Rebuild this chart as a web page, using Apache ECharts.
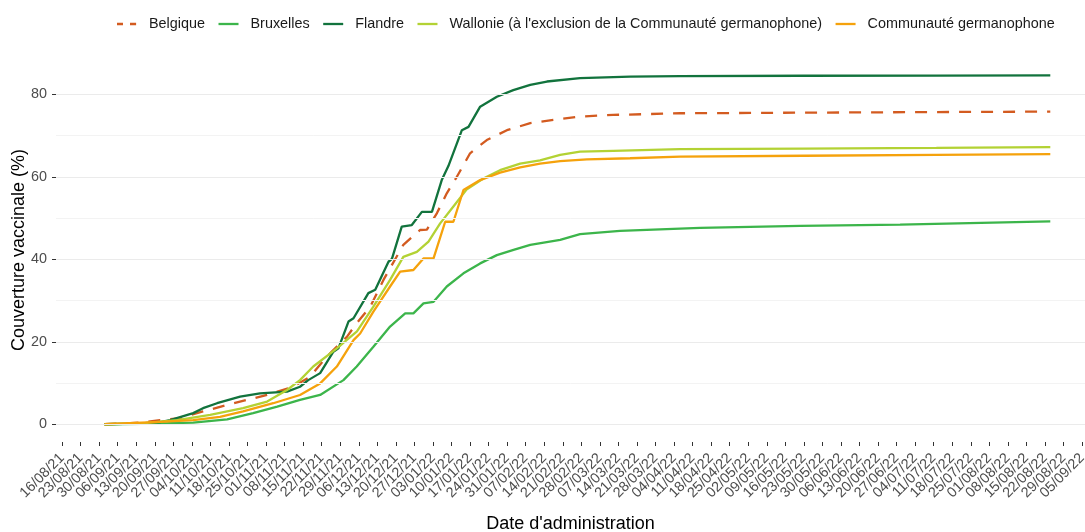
<!DOCTYPE html>
<html><head><meta charset="utf-8">
<script src="https://cdn.jsdelivr.net/npm/echarts@6/dist/echarts.min.js"></script>
<style>html,body{margin:0;padding:0;background:#fff}#c{width:1085px;height:532px}</style>
</head><body><div id="c"></div>
<script>
// x values are days counted from 16/08/21
const tickLabels = ["16/08/21","23/08/21","30/08/21","06/09/21","13/09/21","20/09/21","27/09/21","04/10/21","11/10/21","18/10/21","25/10/21","01/11/21","08/11/21","15/11/21","22/11/21","29/11/21","06/12/21","13/12/21","20/12/21","27/12/21","03/01/22","10/01/22","17/01/22","24/01/22","31/01/22","07/02/22","14/02/22","21/02/22","28/02/22","07/03/22","14/03/22","21/03/22","28/03/22","04/04/22","11/04/22","18/04/22","25/04/22","02/05/22","09/05/22","16/05/22","23/05/22","30/05/22","06/06/22","13/06/22","20/06/22","27/06/22","04/07/22","11/07/22","18/07/22","25/07/22","01/08/22","08/08/22","15/08/22","22/08/22","29/08/22","05/09/22"];
const yTickValues = [0, 20, 40, 60, 80];
const yMinorValues = [10, 30, 50, 70];

const seriesNames = ["Belgique", "Bruxelles", "Flandre", "Wallonie (à l'exclusion de la Communauté germanophone)", "Communauté germanophone"];

const belgiqueDays   = [16, 30, 37, 44.5, 53.2, 62.3, 69.8, 77.4, 87.2, 93.6, 99.9, 107.5, 111.2, 116.3, 121.3, 128.8, 135.1, 137.7, 141.5, 145.2, 149, 154, 160.3, 167.9, 176.7, 185.4, 195.5, 208, 233.3, 280, 330, 373];
const belgiqueValues = [0, 0.4, 1, 1.5, 3.1, 4.7, 5.9, 7.1, 9.1, 11.5, 16.4, 21.2, 24.5, 28.5, 35, 43.5, 47.1, 47.2, 51.2, 56, 60, 65.7, 68.9, 71.3, 73, 73.8, 74.6, 75, 75.4, 75.55, 75.7, 75.8];

const bruxellesDays   = [16, 30, 49.5, 62.3, 72.1, 81.2, 89.8, 97.4, 106.2, 111.2, 117.5, 123.8, 129.5, 132.6, 136.4, 140.2, 145.2, 151.5, 157.8, 164.1, 170.4, 176.7, 188, 195.5, 210.6, 240.8, 278.6, 316.3, 373];
const bruxellesValues = [0, 0.1, 0.4, 1.2, 2.7, 4.3, 5.9, 7.1, 10.7, 14, 18.8, 23.7, 26.9, 26.9, 29.3, 29.7, 33.4, 36.6, 39, 41, 42.3, 43.5, 44.7, 46.1, 46.9, 47.6, 48.1, 48.4, 49.2];

const flandreDays   = [16, 30, 37, 40.8, 49.5, 53.2, 58.5, 67.2, 74.7, 84.9, 89.8, 92.9, 97.4, 102.4, 104.3, 108.1, 110, 115.6, 118.2, 123.2, 124.5, 128.2, 132, 135.8, 139.6, 143.3, 145.8, 150.9, 153.4, 157.8, 164.1, 170.3, 176.7, 183, 195.5, 214.4, 233.3, 280, 330, 373];
const flandreValues = [0, 0.2, 0.5, 1.0, 2.7, 3.9, 5.1, 6.7, 7.5, 7.9, 9.1, 10.7, 12.4, 17.6, 18.4, 24.9, 25.7, 31.8, 32.6, 39.4, 40.1, 47.9, 48.3, 51.5, 51.5, 59.2, 62.6, 71.3, 72.1, 77, 79.4, 81, 82.3, 83.1, 83.9, 84.3, 84.4, 84.5, 84.55, 84.6];

const wallonieDays   = [16, 30, 43.4, 55.9, 68.3, 77.4, 84.9, 89.8, 94.8, 103.7, 111.3, 117.5, 123.8, 128.8, 133.9, 138.3, 142.7, 147.7, 152.8, 159, 165.3, 172.9, 180.4, 188, 195.5, 208, 233.3, 280, 330, 373];
const wallonieValues = [0, 0.2, 1, 2.3, 3.9, 5.5, 8.3, 10.7, 14, 18.4, 22.5, 28.5, 35, 40.6, 41.8, 44.3, 48.7, 52.8, 57, 59.6, 61.6, 63.2, 64, 65.3, 66.1, 66.3, 66.7, 66.85, 67.0, 67.2];

const germanDays   = [16, 37, 49.5, 59.6, 68.3, 79.7, 89.8, 97.4, 103.7, 110, 112.5, 117.5, 123.8, 127.6, 132.6, 136.4, 140.2, 144.6, 147.7, 151.5, 157.8, 165.3, 172.9, 180.4, 188, 198.1, 214.4, 233.3, 280, 330, 373];
const germanValues = [0, 0.6, 1.0, 1.8, 3.1, 5.1, 7.1, 9.9, 14, 20.4, 22, 27.3, 33.4, 37, 37.4, 40.2, 40.2, 49.1, 49.1, 56.8, 59.2, 61, 62.3, 63.2, 63.8, 64.2, 64.5, 64.9, 65.1, 65.3, 65.5];

const colors = ["#d35b20", "#3cb54b", "#12733d", "#b3d234", "#f5a20c"];

const tickDays = tickLabels.map((_, i) => i * 7);
// padded with empty placeholder positions so that no real label is treated as a min/max label
const labelDays = [-2, ...tickDays, 386];
const pairs = (d, v) => d.map((x, i) => [x, v[i]]);
const FONT = "Liberation Sans, Arial, sans-serif";
const ICON_SOLID = 'path://M0,0H20V2.3H0Z';
const ICON_DASH = 'path://M0,0H6V2.3H0Z M13,0H19V2.3H13Z M19.9,0H20V2.3H19.9Z';

const chart = echarts.init(document.getElementById('c'), null, {renderer: 'canvas'});
const lineSeries = [
  [belgiqueDays, belgiqueValues, 'dashed'],
  [bruxellesDays, bruxellesValues, 'solid'],
  [flandreDays, flandreValues, 'solid'],
  [wallonieDays, wallonieValues, 'solid'],
  [germanDays, germanValues, 'solid']
].map((s, i) => ({
  name: seriesNames[i],
  type: 'line',
  data: pairs(s[0], s[1]),
  symbol: 'none',
  smooth: false,
  z: 3,
  lineStyle: {color: colors[i], width: 2.3, type: s[2] === 'dashed' ? [12, 10] : 'solid'},
  itemStyle: {color: colors[i]},
  emphasis: {disabled: true}
}));

const gridSeries = {
  type: 'line', data: [], silent: true, z: 1,
  markLine: {
    silent: true, symbol: ['none', 'none'], label: {show: false}, animation: false,
    emphasis: {disabled: true},
    data: [
      ...yMinorValues.map(v => ({yAxis: v, lineStyle: {color: '#f3f3f3', width: 1, type: 'solid'}})),
      ...yTickValues.map(v => ({yAxis: v, lineStyle: {color: '#ebebeb', width: 1.2, type: 'solid'}}))
    ]
  }
};

chart.setOption({
  animation: false,
  backgroundColor: '#fff',
  grid: {left: 56, right: 0, top: 58, bottom: 90, containLabel: false, outerBoundsMode: 'none'},
  legend: {
    data: seriesNames.map((n, i) => ({name: n, icon: i === 0 ? ICON_DASH : ICON_SOLID})),
    left: 112, top: 12, itemWidth: 20, itemHeight: 14, itemGap: 13.5,
    itemStyle: {borderWidth: 0},
    textStyle: {fontSize: 14.4, color: '#1a1a1a', fontFamily: FONT, padding: [0, 0, 0, 7]}
  },
  xAxis: {
    type: 'value', min: -2.3, max: 386.1,
    axisLine: {show: false, onZero: false}, splitLine: {show: false},
    axisTick: {show: true, customValues: tickDays, length: 4, lineStyle: {color: '#333', width: 1}},
    axisLabel: {customValues: labelDays, rotate: 45, margin: 4, fontSize: 14.4, color: '#4d4d4d', fontFamily: FONT,
      align: 'right', verticalAlign: 'top', padding: [0, 7, 0, 0],
      showMinLabel: false, showMaxLabel: false,
      formatter: v => { if (v < 0 || v > 385) return ''; const k = Math.round(v / 7); return tickLabels[k] !== undefined ? tickLabels[k] : ''; }},
    name: "Date d'administration", nameLocation: 'middle', nameGap: 73,
    nameTextStyle: {fontSize: 18, color: '#000', fontFamily: FONT}
  },
  yAxis: {
    type: 'value', min: -4.3, max: 88.8,
    axisLine: {show: false, onZero: false}, splitLine: {show: false},
    axisTick: {show: true, customValues: yTickValues, length: 4, lineStyle: {color: '#333', width: 1}},
    axisLabel: {customValues: yTickValues, margin: 9, fontSize: 14.4, color: '#4d4d4d', fontFamily: FONT},
    name: 'Couverture vaccinale (%)', nameLocation: 'middle', nameGap: 28, nameRotate: 90, nameMoveOverlap: false,
    nameTextStyle: {fontSize: 18, color: '#000', fontFamily: FONT}
  },
  series: [gridSeries, ...lineSeries]
});
</script></body></html>
